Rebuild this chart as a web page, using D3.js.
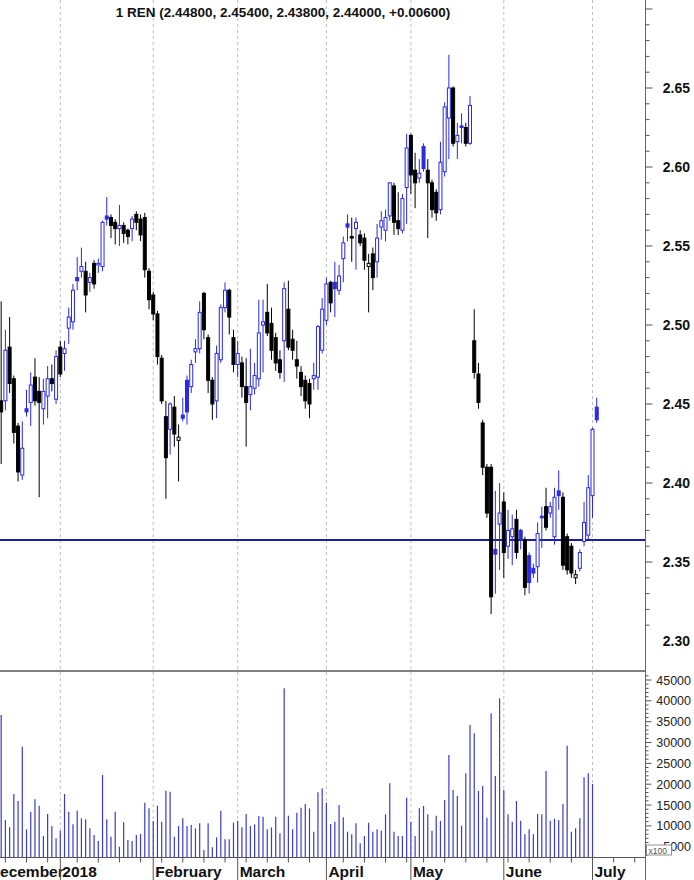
<!DOCTYPE html>
<html><head><meta charset="utf-8">
<script src="https://cdn.jsdelivr.net/npm/d3@7"></script>
<style>body{margin:0;background:#fff;}svg{display:block;font-family:"Liberation Sans",Arial,sans-serif;}</style>
</head><body><svg id="c" width="694" height="880"></svg>
<script>
const title = "1 REN (2.44800, 2.45400, 2.43800, 2.44000, +0.00600)";
const opens = [2.452,2.452,2.486,2.466,2.436,2.405,2.447,2.451,2.467,2.458,
2.447,2.455,2.466,2.453,2.486,2.482,2.498,2.502,2.530,2.534,
2.534,2.527,2.539,2.538,2.537,2.569,2.568,2.565,2.561,2.563,
2.560,2.561,2.570,2.567,2.568,2.534,2.519,2.507,2.479,2.442,
2.434,2.448,2.427,2.443,2.465,2.461,2.483,2.485,2.520,2.492,
2.465,2.452,2.478,2.511,2.522,2.492,2.475,2.476,2.461,2.456,
2.460,2.466,2.500,2.508,2.501,2.492,2.478,2.490,2.510,2.491,
2.478,2.470,2.465,2.463,2.466,2.467,2.484,2.503,2.527,2.527,
2.522,2.542,2.564,2.556,2.561,2.557,2.555,2.537,2.545,2.540,
2.562,2.560,2.569,2.588,2.566,2.560,2.587,2.620,2.598,2.593,
2.613,2.598,2.590,2.584,2.573,2.597,2.631,2.650,2.616,2.626,
2.625,2.615,2.490,2.469,2.438,2.410,2.410,2.358,2.374,2.388,
2.360,2.366,2.377,2.370,2.364,2.354,2.346,2.347,2.379,2.385,
2.381,2.366,2.395,2.391,2.366,2.360,2.340,2.346,2.363,2.367,
2.392,2.448];
const highs = [2.515,2.497,2.505,2.468,2.438,2.439,2.459,2.470,2.479,2.467,
2.466,2.474,2.475,2.484,2.490,2.490,2.511,2.526,2.543,2.549,
2.540,2.533,2.541,2.542,2.566,2.581,2.570,2.567,2.576,2.565,
2.561,2.569,2.572,2.570,2.571,2.536,2.521,2.509,2.481,2.452,
2.451,2.455,2.437,2.454,2.468,2.478,2.491,2.515,2.521,2.494,
2.467,2.487,2.513,2.527,2.523,2.497,2.490,2.480,2.479,2.485,
2.476,2.516,2.516,2.526,2.511,2.495,2.484,2.527,2.528,2.497,
2.490,2.474,2.468,2.466,2.476,2.500,2.517,2.530,2.528,2.540,
2.538,2.556,2.570,2.568,2.568,2.560,2.558,2.545,2.549,2.564,
2.572,2.573,2.590,2.590,2.584,2.583,2.621,2.621,2.609,2.605,
2.615,2.605,2.592,2.586,2.616,2.641,2.671,2.651,2.628,2.634,
2.628,2.645,2.510,2.476,2.440,2.412,2.412,2.395,2.400,2.394,
2.383,2.380,2.383,2.371,2.366,2.356,2.349,2.375,2.385,2.397,
2.388,2.397,2.408,2.394,2.368,2.362,2.345,2.358,2.388,2.405,
2.435,2.454];
const lows = [2.412,2.446,2.457,2.425,2.401,2.402,2.442,2.436,2.449,2.391,
2.437,2.441,2.458,2.450,2.467,2.471,2.488,2.497,2.522,2.530,
2.508,2.521,2.523,2.533,2.534,2.563,2.555,2.551,2.550,2.552,
2.551,2.553,2.560,2.553,2.530,2.510,2.503,2.475,2.450,2.390,
2.418,2.423,2.401,2.439,2.437,2.457,2.476,2.482,2.491,2.457,
2.440,2.441,2.476,2.508,2.494,2.470,2.467,2.454,2.423,2.446,
2.456,2.461,2.470,2.493,2.478,2.471,2.466,2.464,2.484,2.478,
2.466,2.455,2.447,2.441,2.459,2.459,2.482,2.500,2.508,2.505,
2.519,2.527,2.553,2.540,2.535,2.550,2.535,2.508,2.522,2.530,
2.554,2.553,2.566,2.557,2.557,2.558,2.564,2.583,2.574,2.590,
2.597,2.555,2.568,2.566,2.570,2.594,2.605,2.613,2.605,2.615,
2.613,2.614,2.466,2.447,2.405,2.378,2.317,2.330,2.345,2.340,
2.352,2.348,2.352,2.358,2.329,2.330,2.340,2.337,2.359,2.370,
2.378,2.361,2.383,2.345,2.342,2.340,2.336,2.344,2.360,2.364,
2.378,2.438];
const closes = [2.445,2.484,2.463,2.432,2.407,2.422,2.445,2.462,2.452,2.451,
2.458,2.466,2.463,2.480,2.469,2.485,2.505,2.522,2.528,2.537,
2.519,2.530,2.526,2.539,2.565,2.567,2.563,2.561,2.563,2.558,
2.556,2.567,2.565,2.557,2.535,2.516,2.507,2.480,2.452,2.416,
2.450,2.431,2.429,2.441,2.445,2.475,2.485,2.508,2.497,2.465,
2.450,2.482,2.511,2.522,2.505,2.475,2.482,2.461,2.451,2.461,
2.468,2.495,2.502,2.495,2.484,2.476,2.470,2.523,2.486,2.484,
2.474,2.461,2.452,2.450,2.468,2.499,2.510,2.526,2.514,2.523,
2.531,2.552,2.562,2.555,2.565,2.552,2.541,2.539,2.530,2.555,
2.566,2.568,2.590,2.565,2.561,2.580,2.612,2.595,2.590,2.596,
2.599,2.590,2.573,2.571,2.603,2.638,2.650,2.615,2.620,2.625,
2.615,2.639,2.470,2.451,2.410,2.381,2.328,2.355,2.381,2.356,
2.370,2.371,2.356,2.364,2.334,2.337,2.343,2.368,2.378,2.372,
2.385,2.391,2.392,2.348,2.345,2.343,2.342,2.356,2.375,2.397,
2.434,2.440];
const volumes = [36600,11400,9640,17640,15960,29000,9160,13400,16360,14840,
7560,12840,9960,7000,8840,17640,13400,10360,13640,11800,
11560,9400,7800,6360,22200,11560,7400,13400,5000,10840,
6600,6360,7800,8040,15560,14200,11160,14840,11000,18440,
18200,7400,9960,11800,9960,10200,9400,10600,4200,10600,
4840,7240,13640,6760,6760,10760,11240,9640,12840,9960,
10360,12360,12200,9160,9640,12200,8200,43000,12440,9160,
13160,14360,15240,14200,8600,18040,19000,15560,10440,11000,
15000,12040,8600,7960,10600,5800,7560,10760,8600,9160,
8840,12760,20200,8600,7560,7560,16760,11000,7560,14200,
14760,12760,8840,12440,11160,16200,27000,18600,17160,10040,
22600,34200,32200,18360,19560,11960,37000,21960,40600,18600,
12760,11000,15960,11240,7960,9160,7960,12840,12760,23160,
11240,11720,11400,15240,29240,8600,9400,11800,21640,22600,
20040];
const priceTicks = [2.30,2.35,2.40,2.45,2.50,2.55,2.60,2.65];
const volumeTicks = [5000,10000,15000,20000,25000,30000,35000,40000,45000];
const monthLabels = ["December","2018","February","March","April","May","June","July"];
const monthStarts = [-3.4,14,36,56,77,97,119,140];
const weekStarts = [1,6,11,18,23,28,33,38,43,48,53,58,63,68,73,81,86,91,96,100,105,110,115,120,125,130,135,145,150];
const supportLevel = 2.364;

const svg = d3.select("#c");
const AXX = 645.5, PBOT = 671, VBOT = 857.5;
const x = d3.scaleLinear().domain([14,140]).range([60.3,592.5]);
const y = d3.scaleLinear().domain([2.30,2.65]).range([641,88]);
const yv = d3.scaleLinear().domain([5000,45000]).range([846.7,680]);
const BLUE = "#2a2ae6", BLACK = "#000", VOL = "#3b3bcc";

svg.append("rect").attr("width",694).attr("height",880).attr("fill","#fff");

// month grid lines
const grid = svg.append("g");
monthStarts.forEach(i => {
  grid.append("line").attr("x1",x(i)).attr("x2",x(i)).attr("y1",0).attr("y2",VBOT)
    .attr("stroke","#bdbdbd").attr("stroke-width",1).attr("stroke-dasharray","3,3");
});

// title
svg.append("text").attr("x",283).attr("y",17).attr("text-anchor","middle")
  .attr("font-weight","bold").attr("font-size",13.5).attr("fill","#111").text(title);

// support line
svg.append("line").attr("x1",0).attr("x2",AXX).attr("y1",y(supportLevel)).attr("y2",y(supportLevel))
  .attr("stroke","#1c1ca6").attr("stroke-width",2);

// candles
const cg = svg.append("g");
closes.forEach((c,i) => {
  const o = opens[i], h = highs[i], l = lows[i];
  const up = i === 0 ? false : c > closes[i-1];
  const col = up ? BLUE : BLACK;
  const filled = c < o;
  const cx = x(i);
  cg.append("line").attr("x1",cx).attr("x2",cx).attr("y1",y(h)).attr("y2",y(l))
    .attr("stroke",col).attr("stroke-width",1);
  const top = y(Math.max(o,c)), bot = y(Math.min(o,c));
  cg.append("rect").attr("x",cx-1.5).attr("y",top).attr("width",3).attr("height",Math.max(1,bot-top))
    .attr("fill",filled ? col : "#fff").attr("stroke",col).attr("stroke-width",1);
});

// volume bars
const vg = svg.append("g");
volumes.forEach((v,i) => {
  vg.append("line").attr("x1",x(i)).attr("x2",x(i)).attr("y1",VBOT).attr("y2",yv(v))
    .attr("stroke",VOL).attr("stroke-width",1.2);
});

// panel lines
svg.append("line").attr("x1",0).attr("x2",AXX).attr("y1",PBOT).attr("y2",PBOT).attr("stroke","#555").attr("stroke-width",1.5);
svg.append("line").attr("x1",0).attr("x2",AXX).attr("y1",VBOT).attr("y2",VBOT).attr("stroke","#555").attr("stroke-width",1);
svg.append("line").attr("x1",AXX).attr("x2",AXX).attr("y1",0).attr("y2",880).attr("stroke","#666").attr("stroke-width",1);

// price axis
const pa = svg.append("g");
d3.range(231,271).map(d => d/100).forEach(v => {
  const yy = y(v);
  if (yy < 1 || yy > PBOT - 2) return;
  const major = Math.abs(v*20 - Math.round(v*20)) < 1e-6;
  pa.append("line").attr("x1",AXX).attr("x2",AXX + (major ? 7 : 4)).attr("y1",yy).attr("y2",yy)
    .attr("stroke","#555").attr("stroke-width",1);
});
priceTicks.forEach(v => {
  pa.append("text").attr("x",690).attr("y",y(v)).attr("dy","0.36em").attr("text-anchor","end")
    .attr("font-weight","bold").attr("font-size",14).attr("fill","#111").text(v.toFixed(2));
});

// volume axis
const va = svg.append("g");
d3.range(3,47).map(d => d*1000).forEach(v => {
  const yy = yv(v);
  if (yy < PBOT + 3 || yy > VBOT) return;
  const major = v % 5000 === 0;
  va.append("line").attr("x1",AXX).attr("x2",AXX + (major ? 6 : 3)).attr("y1",yy).attr("y2",yy)
    .attr("stroke","#555").attr("stroke-width",1);
});
volumeTicks.forEach(v => {
  va.append("text").attr("x",691).attr("y",yv(v)).attr("dy","0.36em").attr("text-anchor","end")
    .attr("font-size",12.5).attr("fill","#222").text(v);
});
va.append("rect").attr("x",AXX+1).attr("y",845).attr("width",25).attr("height",10)
  .attr("fill","#fff").attr("stroke","#777").attr("stroke-width",0.8);
va.append("text").attr("x",AXX+3).attr("y",853.5).attr("font-size",8.5).attr("fill","#555").text("x100");

// x axis
const xa = svg.append("g");
weekStarts.forEach(i => {
  const xx = x(i); if (xx > AXX) return;
  xa.append("line").attr("x1",xx).attr("x2",xx).attr("y1",VBOT).attr("y2",VBOT+5).attr("stroke","#555");
});
monthStarts.forEach((i,k) => {
  const xx = x(i);
  xa.append("line").attr("x1",xx).attr("x2",xx).attr("y1",VBOT).attr("y2",880).attr("stroke","#555");
  xa.append("text").attr("x",xx+2).attr("y",877).attr("font-weight","bold").attr("font-size",15.5)
    .attr("fill","#111").text(monthLabels[k]);
});
</script></body></html>
